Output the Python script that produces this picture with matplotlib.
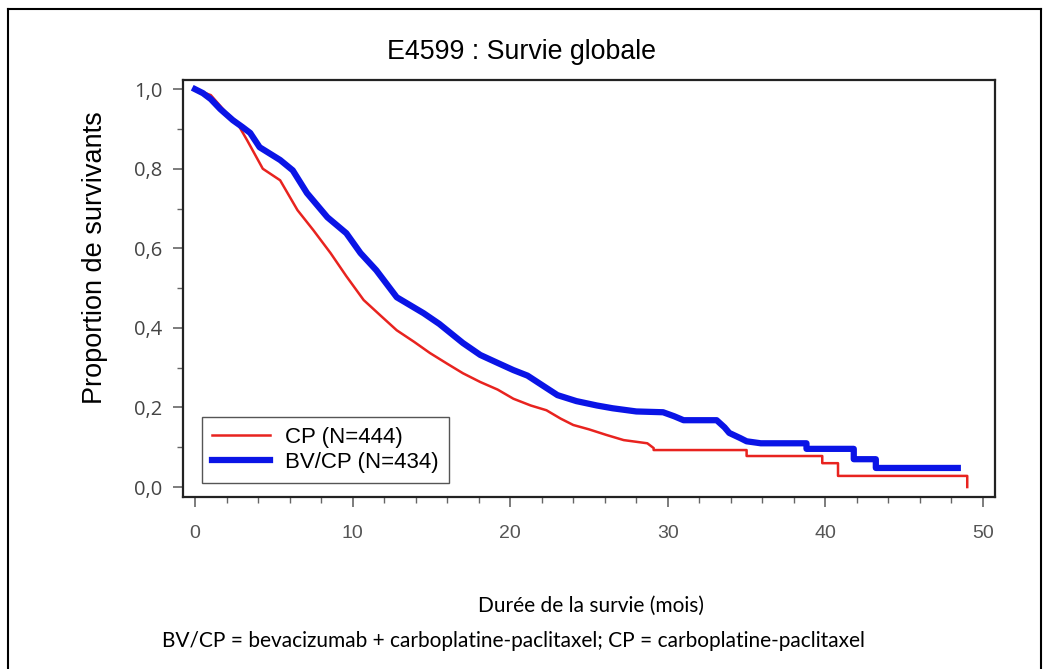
import matplotlib
matplotlib.use("Agg")
import matplotlib.pyplot as plt
from matplotlib.lines import Line2D

# Courbes de Kaplan-Meier (mois, proportion de survivants)
cp_t = [0, 1.0, 2.0, 2.6, 3.3, 4.3, 5.4, 6.5, 7.5, 8.6, 9.6, 10.7, 11.8, 12.8,
        13.9, 14.9, 16.0, 17.0, 18.1, 19.2, 20.2, 21.3, 22.3, 23.2, 24.0, 25.0,
        26.1, 27.2, 28.7, 29.1, 29.1, 35.0, 35.0, 39.8, 39.8, 40.8, 40.8, 49.0, 49.0]
cp_s = [1.0, 0.985, 0.94, 0.92, 0.872, 0.80, 0.771, 0.696, 0.646, 0.588, 0.53, 0.47,
        0.43, 0.394, 0.365, 0.337, 0.31, 0.286, 0.264, 0.245, 0.222, 0.205, 0.193,
        0.172, 0.156, 0.145, 0.131, 0.118, 0.11, 0.098, 0.093, 0.093, 0.078, 0.078,
        0.060, 0.060, 0.028, 0.028, 0.0]

bv_t = [0, 0.5, 1.0, 1.6, 2.4, 3.0, 3.5, 4.1, 5.4, 6.2, 7.1, 8.4, 9.6, 10.5, 11.5,
        12.8, 14.5, 15.5, 17.0, 18.1, 19.2, 20.2, 21.1, 22.3, 23.0, 24.2, 25.5,
        26.5, 28.0, 29.7, 30.4, 31.0, 33.1, 33.6, 33.9, 34.6, 35.0, 35.9, 38.8,
        38.8, 41.8, 41.8, 43.2, 43.2, 48.4]
bv_s = [1.0, 0.99, 0.975, 0.95, 0.922, 0.905, 0.89, 0.854, 0.822, 0.796, 0.739,
        0.678, 0.638, 0.588, 0.545, 0.477, 0.437, 0.41, 0.362, 0.332, 0.312, 0.294,
        0.28, 0.249, 0.231, 0.216, 0.205, 0.198, 0.19, 0.188, 0.178, 0.168, 0.168,
        0.15, 0.136, 0.123, 0.115, 0.11, 0.11, 0.096, 0.096, 0.070, 0.070, 0.048,
        0.048]

labels = ["CP (N=444)", "BV/CP (N=434)"]
xticks = [0, 10, 20, 30, 40, 50]
yticks = [0.0, 0.2, 0.4, 0.6, 0.8, 1.0]
ytick_labels = ["0,0", "0,2", "0,4", "0,6", "0,8", "1,0"]

fig = plt.figure(figsize=(10.49, 6.69), dpi=100)
ax = fig.add_axes([0.1745, 0.2571, 0.774, 0.6233])

ax.plot(cp_t, cp_s, color="#e8231f", lw=1.8)
ax.plot(bv_t, bv_s, color="#0a14e6", lw=4.5, solid_joinstyle="round")

ax.set_xlim(-0.76, 50.76)
ax.set_ylim(-0.025, 1.023)
ax.set_xticks(xticks)
ax.set_xticks(range(0, 51, 2), minor=True)
ax.set_yticks(yticks)
ax.set_yticks([i / 10 for i in range(11)], minor=True)
ax.set_yticklabels(ytick_labels, fontfamily="Open Sans", fontsize=14.5, color="#444444")
for lab in ax.get_xticklabels():
    lab.set_fontfamily("Liberation Sans")
    lab.set_fontsize(14)
    lab.set_color("#555555")
ax.tick_params(which="major", length=7, width=1.2, color="#666666")
ax.tick_params(which="minor", length=4, width=1.0, color="#666666")
ax.tick_params(axis="x", which="major", pad=13)
ax.tick_params(axis="y", which="major", pad=8)
for sp in ax.spines.values():
    sp.set_color("#222222")
    sp.set_linewidth(1.6)

handles = [Line2D([], [], color="#e8231f", lw=1.8),
           Line2D([], [], color="#0a14e6", lw=4.5)]
leg = ax.legend(handles, labels, loc="lower left", bbox_to_anchor=(0.023, 0.033),
                prop={"family": "Liberation Sans", "size": 16}, fancybox=False,
                edgecolor="#555555", framealpha=1, handlelength=2.6,
                labelspacing=0.2, borderpad=0.45, handletextpad=0.7,
                borderaxespad=0)
leg.get_frame().set_linewidth(1.0)

ax.set_ylabel("Proportion de survivants", fontfamily="Liberation Sans", fontsize=19.5,
              va="center")
ax.yaxis.set_label_coords(-0.108, 0.573)

fig.text(0.497, 0.922, "E4599 : Survie globale", ha="center", va="center",
         fontfamily="Liberation Sans", fontsize=19.3)
fig.text(591 / 1049, 1 - 606 / 669, "Durée de la survie (mois)", ha="center",
         va="center", fontfamily="Lato", fontsize=15)
fig.text(162 / 1049, 1 - 641 / 669,
         "BV/CP = bevacizumab + carboplatine-paclitaxel; CP = carboplatine-paclitaxel",
         ha="left", va="center", fontfamily="Lato", fontsize=15)

# cadre autour de la figure
fig.add_artist(Line2D([8 / 1049, 8 / 1049], [0, 1 - 9 / 669], transform=fig.transFigure,
                      color="black", lw=1.5))
fig.add_artist(Line2D([8 / 1049, 1041 / 1049], [1 - 9 / 669, 1 - 9 / 669],
                      transform=fig.transFigure, color="black", lw=1.5))
fig.add_artist(Line2D([1041 / 1049, 1041 / 1049], [0, 1 - 9 / 669],
                      transform=fig.transFigure, color="black", lw=1.5))

fig.savefig("out.png", dpi=100)
